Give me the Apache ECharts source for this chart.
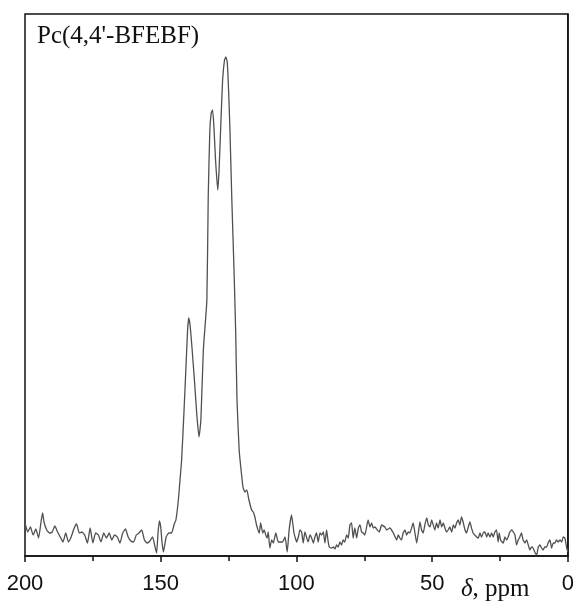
<!DOCTYPE html>
<html><head><meta charset="utf-8">
<script src="https://cdn.jsdelivr.net/npm/echarts@6/dist/echarts.min.js"></script>
<style>html,body{margin:0;padding:0;background:#fff}#c{width:577px;height:608px}</style>
</head><body><div id="c"></div>
<script>
var chartTitle = "Pc(4,4'-BFEBF)";
var xAxisSymbol = "δ";
var xAxisUnit = ", ppm";
var xTicks = [200, 150, 100, 50, 0];
var ppm = [200,199,198,197,196,195,194,193.5,193,192,191,190,189,188,187,186,185,184,183,182,181,180,179,178,177,176,175,174,173,172,171,170,169,168,167,166,165,164,163,162,161,160,159,158,157,156,155,154,153,152,151.5,151,150.5,150,149.5,149,148,147,146,145,144.4,143.5,142.9,142.3,141.4,140.7,140.1,139.7,139.2,138.5,137.4,136.7,135.9,135.2,134.3,133.0,132.5,131.9,131.4,130.9,130.4,129.8,129.0,128.5,127.8,127.2,126.5,126.0,125.5,125.0,124.5,123.8,123.0,122.4,121.9,121.1,120.4,119.7,119.0,118.3,117.5,116.5,115.9,115.3,114.7,113.7,113.2,112.4,111.9,111.3,110.8,110.4,109.8,109.1,108.5,107.6,106.7,106.1,105.1,104.2,103.4,102.7,101.8,100.9,99.9,99.3,98.7,98.1,97.5,96.9,96.3,95.7,95.0,94.4,93.8,93.2,92.6,92.0,91.3,90.7,90.1,89.5,88.9,88.4,87.9,87.0,86.4,85.8,85.2,84.6,84.0,83.4,82.8,82.2,81.5,80.9,80.3,79.7,79.1,78.5,77.8,77.2,76.6,76.0,75.4,74.8,73.6,72.9,72.3,71.7,71.1,70.2,69.5,68.6,67.4,66.8,65.6,64.3,63.1,62.5,61.9,61.3,60.7,60.0,59.4,58.8,58.2,57.0,56.4,55.7,55.1,54.5,53.9,53.3,52.7,52.0,51.4,50.8,50.2,49.6,49.0,48.4,47.8,47.1,46.5,45.9,45.3,44.7,44.1,43.5,42.8,42.2,41.6,41.0,40.4,39.8,39.2,38.6,37.9,37.3,36.7,36.1,35.5,34.9,33.6,33.0,32.4,31.8,31.2,30.6,29.9,29.4,28.7,28.1,27.5,26.9,26.3,25.7,25.3,24.8,23.8,23.2,22.6,22.0,21.4,20.7,20.1,19.5,18.9,18.3,17.7,17.1,16.5,15.8,15.2,14.6,14.0,13.4,12.8,12.2,11.5,10.9,10.3,9.7,9.1,8.5,7.8,7.3,6.6,6.0,5.4,4.8,4.2,3.6,2.9,2.3,1.7,1.1,0.5,0];
var intensity = [33,24,29,21,27,18,36,43,34,26,23,24,30,24,19,14,23,14,19,27,32,23,24,21,13,28,13,23,21,14,23,18,23,16,21,19,13,23,27,19,15,14,21,23,26,16,13,15,19,8,3,23,35,29,13,4,19,23,23,32,36,56,76,96,146,189,226,238,231,209,169,141,119,136,206,256,359,426,443,446,429,396,366,386,436,476,496,499,494,466,426,356,286,226,156,106,86,69,64,66,56,46,44,39,31,23,33,23,26,21,18,24,8,16,13,23,14,14,14,19,4,26,41,23,14,19,26,24,13,24,19,14,21,18,13,19,23,14,23,21,24,13,26,16,9,8,9,7,11,9,14,11,16,14,21,18,31,33,18,28,18,28,31,24,23,21,36,29,33,28,29,26,24,31,29,26,28,23,16,21,18,16,23,26,21,24,23,33,24,13,23,34,26,23,31,38,31,29,36,31,26,33,28,36,29,33,28,24,26,29,24,31,28,33,36,31,39,34,26,23,29,34,28,23,19,18,23,19,23,24,19,23,19,23,19,24,26,14,23,16,13,19,16,19,24,26,24,21,11,16,19,23,16,13,16,11,6,9,8,4,1,9,11,8,6,9,9,13,16,8,13,13,16,14,16,14,19,18,9,4];

var seriesData = ppm.map(function (p, i) { return [p, intensity[i]]; });

var chart = echarts.init(document.getElementById('c'), null, {renderer: 'canvas'});
chart.setOption({
  animation: false,
  backgroundColor: '#fff',
  grid: {left: 25, right: 9, top: 14, bottom: 52, show: true, borderColor: '#111', borderWidth: 1.5, backgroundColor: 'transparent'},
  xAxis: {
    type: 'value', inverse: true, min: 0, max: 200, interval: 50,
    axisLine: {show: true, lineStyle: {color: '#111', width: 1.5}},
    axisTick: {show: true, inside: false, length: 6, lineStyle: {color: '#111', width: 1.5}},
    minorTick: {show: true, splitNumber: 2, length: 5, lineStyle: {color: '#111', width: 1.5}},
    splitLine: {show: false},
    axisLabel: {color: '#111', fontFamily: 'Liberation Sans, Arial, sans-serif', fontSize: 22, margin: 17,
      formatter: function (v) { return xTicks.indexOf(v) >= 0 ? String(v) : ''; }}
  },
  yAxis: {
    type: 'value', min: 0, max: 542,
    axisLine: {show: true, lineStyle: {color: '#111', width: 1.5}},
    axisTick: {show: false}, axisLabel: {show: false}, splitLine: {show: false}
  },
  graphic: [
    {type: 'text', left: 37, top: 24, style: {text: chartTitle, font: '25px "Liberation Serif", "Times New Roman", serif', fill: '#111'}},
    {type: 'text', left: 461, top: 577, style: {
      text: '{i|' + xAxisSymbol + '}' + xAxisUnit,
      font: '25px "Liberation Serif", "Times New Roman", serif', fill: '#111',
      rich: {i: {fontStyle: 'italic', fontFamily: 'Liberation Serif', fontSize: 25, fill: '#111'}}}}
  ],
  series: [{
    type: 'line', data: seriesData, showSymbol: false, smooth: 0.15,
    lineStyle: {color: '#505050', width: 1.3}
  }]
});
</script></body></html>
